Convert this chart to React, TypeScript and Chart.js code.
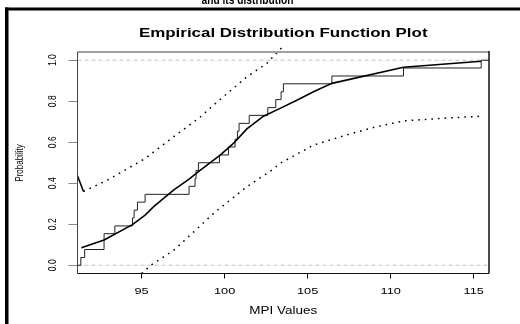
import React, { useEffect, useRef } from "react";
import { Chart, registerables } from "chart.js";

Chart.register(...registerables);

// ---- texts ----
const TITLE = "Empirical Distribution Function Plot";
const X_TITLE = "MPI Values";
const Y_TITLE = "Probability";
const TOP_FRAGMENT = "and its distribution";

// ---- axes ----
const xTicks = [95, 100, 105, 110, 115];
const xTickLabels = ["95", "100", "105", "110", "115"];
const yTicks = [0, 0.2, 0.4, 0.6, 0.8, 1.0];
const yTickLabels = ["0.0", "0.2", "0.4", "0.6", "0.8", "1.0"];
const xMin = 91.14;
const xMax = 115.92;
const yMin = -0.04;
const yMax = 1.04;

// ---- empirical distribution (sorted MPI values and cumulative probability) ----
const mpiValues = [
  91.34, 91.57, 92.74, 92.74, 93.39, 94.45, 94.55, 94.75, 95.21, 97.86,
  98.22, 98.28, 98.42, 99.69, 100.23, 100.63, 100.77, 100.87, 101.48, 102.6,
  103.08, 103.4, 103.54, 106.46, 110.77, 115.45,
];
const ecdfProb = [
  0.038, 0.077, 0.115, 0.154, 0.192, 0.231, 0.269, 0.308, 0.346, 0.385,
  0.423, 0.462, 0.5, 0.538, 0.577, 0.615, 0.654, 0.692, 0.731, 0.769,
  0.808, 0.846, 0.885, 0.923, 0.962, 1.0,
];

// ---- fitted distribution curve ----
const fitX = [91.37, 92.74, 94.45, 95.21, 95.71, 96.92, 97.86, 98.52, 99.73, 100.53, 101.34, 102.34, 103.34, 104.35, 105.35, 106.46, 110.77, 115.45];
const fitP = [0.086, 0.123, 0.198, 0.245, 0.285, 0.367, 0.42, 0.463, 0.537, 0.594, 0.665, 0.727, 0.765, 0.805, 0.846, 0.887, 0.966, 0.995];

// ---- confidence bands ----
const leadX = [91.14, 91.5];
const leadP = [0.436, 0.36];
const upperX = [91.5, 92.94, 95.2, 96.92, 98.52, 99.33, 101.34, 102.54, 103.6];
const upperP = [0.36, 0.415, 0.52, 0.626, 0.722, 0.781, 0.919, 0.984, 1.075];
const lowerX = [95.0, 95.55, 96.96, 98.16, 99.33, 101.34, 102.84, 103.34, 105.35, 107.2, 108.96, 110.77, 112.98, 115.45];
const lowerP = [-0.04, 0.0, 0.075, 0.164, 0.253, 0.383, 0.464, 0.497, 0.586, 0.632, 0.672, 0.704, 0.716, 0.727];

// ---- reference levels ----
const refLevels = [0, 1];

const FONT = "'Liberation Sans', Arial, Helvetica, sans-serif";

const pts = (xs: number[], ys: number[]) => xs.map((x, i) => ({ x, y: ys[i] }));

const textPlugin = {
  id: "rtexts",
  afterDatasetsDraw(chart: any) {
    const ctx = chart.ctx as CanvasRenderingContext2D;
    const { left, right, top, bottom } = chart.chartArea;
    ctx.save();
    ctx.lineWidth = 2;
    ctx.strokeStyle = "#a0a0a0";
    ctx.beginPath();
    ctx.moveTo(left, top);
    ctx.lineTo(right, top);
    ctx.stroke();
    ctx.lineWidth = 1;
    ctx.strokeStyle = "#444";
    ctx.beginPath();
    ctx.moveTo(left, top);
    ctx.lineTo(left, bottom);
    ctx.stroke();
    ctx.strokeStyle = "#111";
    ctx.beginPath();
    ctx.moveTo(left, bottom);
    ctx.lineTo(right, bottom);
    ctx.stroke();
    ctx.lineWidth = 1.5;
    ctx.beginPath();
    ctx.moveTo(right, top - 1);
    ctx.lineTo(right, bottom);
    ctx.stroke();
    ctx.restore();
  },
  afterDraw(chart: any) {
    const ctx = chart.ctx as CanvasRenderingContext2D;
    const { left, right } = chart.chartArea;
    const xs = chart.scales.x;
    const ys = chart.scales.y;
    ctx.save();
    ctx.fillStyle = "#000";
    ctx.fillRect(5, 7.5, 515, 3);
    ctx.fillRect(5, 7.5, 3.5, 316.5);

    const hText = (txt: string, x: number, y: number, font: string, sx: number) => {
      ctx.save();
      ctx.translate(x, y);
      ctx.scale(sx, 1);
      ctx.font = font;
      ctx.textAlign = "center";
      ctx.textBaseline = "alphabetic";
      ctx.fillText(txt, 0, 0);
      ctx.restore();
    };
    const vText = (txt: string, x: number, y: number, font: string, sy: number) => {
      ctx.save();
      ctx.translate(x, y);
      ctx.rotate(-Math.PI / 2);
      ctx.scale(1, sy);
      ctx.font = font;
      ctx.textAlign = "center";
      ctx.textBaseline = "alphabetic";
      ctx.fillText(txt, 0, 0);
      ctx.restore();
    };

    ctx.save();
    ctx.font = `bold 13px ${FONT}`;
    const w = ctx.measureText(TOP_FRAGMENT).width;
    ctx.restore();
    hText(TOP_FRAGMENT, 247.5, 3.5, `bold 13px ${FONT}`, 92 / w);

    const cx = (left + right) / 2;
    hText(TITLE, cx, 36.5, `bold 12px ${FONT}`, 1.41);
    hText(X_TITLE, cx, 314, `10px ${FONT}`, 1.35);
    vText(Y_TITLE, 22.5, 163, `8px ${FONT}`, 1.35);

    xTicks.forEach((v, i) => {
      hText(xTickLabels[i], xs.getPixelForValue(v), 293.5, `9px ${FONT}`, 1.42);
    });
    yTicks.forEach((v, i) => {
      vText(yTickLabels[i], 56, ys.getPixelForValue(v), `8.5px ${FONT}`, 1.3);
    });
    ctx.restore();
  },
};

export default function App() {
  const ref = useRef<HTMLCanvasElement | null>(null);
  useEffect(() => {
    if (!ref.current) return;
    const ecdfData = [
      { x: xMin, y: 0 },
      ...pts(mpiValues, ecdfProb),
      { x: xMax, y: ecdfProb[ecdfProb.length - 1] },
    ];
    const dotted = {
      borderColor: "#000",
      borderWidth: 1.5,
      borderDash: [1.6, 5],
      borderCapStyle: "butt",
      pointRadius: 0,
    };
    const chart = new Chart(ref.current, {
      type: "line",
      data: {
        datasets: [
          {
            label: "lead",
            data: pts(leadX, leadP),
            borderColor: "#000",
            borderWidth: 1.5,
            pointRadius: 0,
          },
          {
            label: "Upper band",
            data: pts(upperX, upperP),
            ...dotted,
            clip: { left: 0, top: 10, right: 0, bottom: 0 },
          },
          {
            label: "Lower band",
            data: pts(lowerX, lowerP),
            ...dotted,
            clip: { left: 0, top: 0, right: 0, bottom: 0 },
          },
          {
            label: "Fitted",
            data: pts(fitX, fitP),
            borderColor: "#000",
            borderWidth: 1.6,
            pointRadius: 0,
          },
          {
            label: "ECDF",
            data: ecdfData,
            borderColor: "#222",
            borderWidth: 1,
            stepped: "before",
            pointRadius: 0,
          },
          ...refLevels.map((lv) => ({
            label: "ref" + lv,
            data: [
              { x: xMin, y: lv },
              { x: xMax, y: lv },
            ],
            borderColor: "#c4c4c4",
            borderWidth: 1,
            borderDash: [4, 3],
            pointRadius: 0,
          })),
        ],
      },
      options: {
        responsive: false,
        animation: false,
        layout: { padding: { left: 77.5, top: 52, right: 31, bottom: 50.5 } },
        plugins: {
          legend: { display: false },
          tooltip: { enabled: false },
          title: { display: false },
        },
        elements: { line: { tension: 0 }, point: { radius: 0 } },
        scales: {
          x: {
            type: "linear",
            min: xMin,
            max: xMax,
            afterBuildTicks: (s: any) => {
              s.ticks = xTicks.map((v) => ({ value: v }));
            },
            afterFit: (s: any) => {
              s.height = 0;
            },
            ticks: { display: false },
            grid: {
              display: true,
              drawOnChartArea: false,
              drawTicks: true,
              tickLength: 5,
              color: "#000",
              tickColor: "#000",
              lineWidth: 1,
            },
            border: { display: false },
          },
          y: {
            type: "linear",
            min: yMin,
            max: yMax,
            afterBuildTicks: (s: any) => {
              s.ticks = yTicks.map((v) => ({ value: v }));
            },
            afterFit: (s: any) => {
              s.width = 0;
            },
            ticks: { display: false },
            grid: {
              display: true,
              drawOnChartArea: false,
              drawTicks: true,
              tickLength: 9,
              color: "#888",
              tickColor: "#888",
              lineWidth: 1,
            },
            border: { display: false },
          },
        },
      },
      plugins: [textPlugin],
    } as any);
    return () => chart.destroy();
  }, []);
  return (
    <div style={{ position: "absolute", left: 0, top: 0, width: 520, height: 324, background: "#fff" }}>
      <canvas ref={ref} width={520} height={324} style={{ display: "block" }} />
    </div>
  );
}
